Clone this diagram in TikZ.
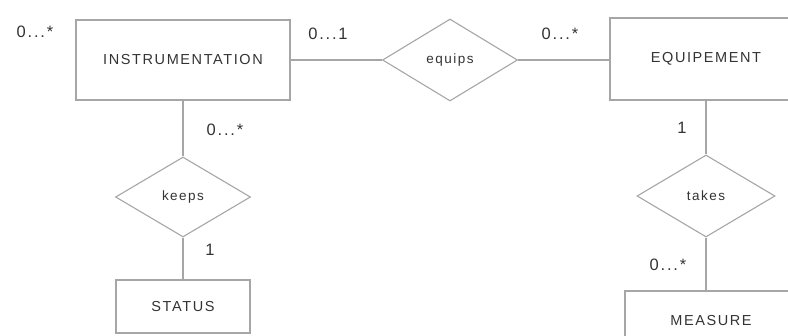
\documentclass[tikz,border=0pt]{standalone}
\usepackage{fontspec}
\newfontfamily\erfont[LetterSpace=11]{Liberation Sans}
\usetikzlibrary{shapes.geometric}
\begin{document}
\begin{tikzpicture}[x=1pt,y=-1pt,
  entity/.style={draw=black!35,line width=1.1pt,inner sep=0pt,text=black!80,
    font=\erfont\fontsize{14.5}{15}\selectfont},
  relation/.style={diamond,draw=black!35,line width=1.1pt,inner sep=0pt,text=black!80,
    font=\erfont\fontsize{13.5}{14}\selectfont},
  link/.style={draw=black!35,line width=1.1pt},
  card/.style={text=black!80,font=\erfont\fontsize{16.5}{17}\selectfont}]
  \useasboundingbox (0,0) rectangle (788,336);

  \node[entity,minimum width=214pt,minimum height=80pt] (instr) at (183,60) {INSTRUMENTATION};
  \node[relation,minimum width=135pt,minimum height=82pt] (equips) at (450,60) {equips};
  \node[entity,minimum width=192pt,minimum height=82pt] (equip) at (706,59) {EQUIPEMENT};
  \node[relation,minimum width=135pt,minimum height=80pt] (keeps) at (183,197) {keeps};
  \node[entity,minimum width=134pt,minimum height=53pt] (status) at (183,306.5) {STATUS};
  \node[relation,minimum width=138pt,minimum height=82pt] (takes) at (706,196) {takes};
  \node[entity,minimum width=172pt,minimum height=60pt] (measure) at (711,321) {MEASURE};

  \draw[link] (instr) -- (equips);
  \draw[link] (equips) -- (equips -| equip.west);
  \draw[link] (instr) -- (keeps);
  \draw[link] (keeps) -- (status);
  \draw[link] (equip) -- (takes);
  \draw[link] (takes) -- (takes |- measure.north);

  \node[card] (c1) at (35,32) {0...*};
  \node[card] (c2) at (328,34) {0...1};
  \node[card] (c3) at (560,34) {0...*};
  \node[card] (c4) at (225,130) {0...*};
  \node[card] (c5) at (210,250) {1};
  \node[card] (c6) at (682,128) {1};
  \node[card] (c7) at (668,265) {0...*};
\end{tikzpicture}
\end{document}
